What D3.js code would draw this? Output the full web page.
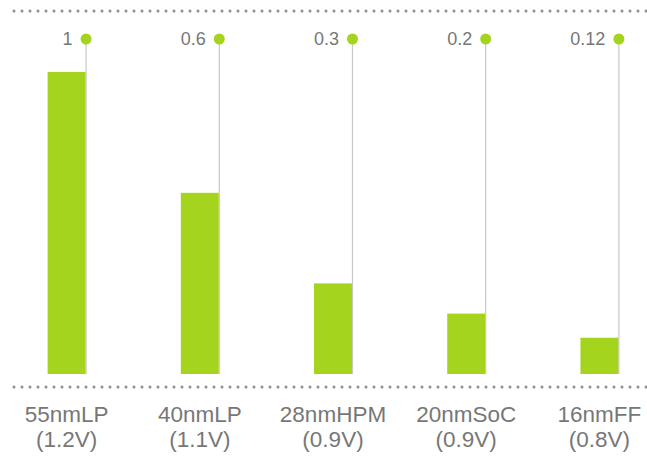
<!DOCTYPE html>
<html><head><meta charset="utf-8">
<script src="https://cdn.jsdelivr.net/npm/d3@7"></script>
<style>html,body{margin:0;padding:0;background:#fff;}svg{display:block;}</style>
</head><body>
<script>
const categories = ["55nmLP","40nmLP","28nmHPM","20nmSoC","16nmFF"];
const voltages = ["(1.2V)","(1.1V)","(0.9V)","(0.9V)","(0.8V)"];
const values = [1, 0.6, 0.3, 0.2, 0.12];
const valueLabels = ["1","0.6","0.3","0.2","0.12"];

const W = 647, H = 456;
const green = "#a5d41f", grey = "#777", dotGrey = "#8f8f8f";
const font = "'Liberation Sans', Arial, Helvetica, sans-serif";

const svg = d3.select("body").append("svg").attr("width", W).attr("height", H);

const x = d3.scaleBand().domain(categories).range([0, 666]).paddingInner(0.715).paddingOuter(0.3575);
const y = d3.scaleLinear().domain([0, 1]).range([374, 72]);
const dotY = 39;

// dotted rules
[11, 387].forEach(yy => {
  svg.append("line").attr("x1", 14).attr("x2", 647).attr("y1", yy).attr("y2", yy)
    .attr("stroke", dotGrey).attr("stroke-width", 3).attr("stroke-linecap", "round")
    .attr("stroke-dasharray", "0 8");
});

const g = svg.selectAll("g.item").data(categories).enter().append("g");

// connector lines
g.append("line")
  .attr("x1", (d) => x(d) + x.bandwidth() + 0.5)
  .attr("x2", (d) => x(d) + x.bandwidth() + 0.5)
  .attr("y1", dotY).attr("y2", y(0))
  .attr("stroke", "#c8c8c8").attr("stroke-width", 1.2);

// bars
g.append("rect")
  .attr("x", d => x(d))
  .attr("width", x.bandwidth())
  .attr("y", (d, i) => y(values[i]))
  .attr("height", (d, i) => y(0) - y(values[i]))
  .attr("fill", green);

// dots
g.append("circle")
  .attr("cx", d => x(d) + x.bandwidth() + 0.5)
  .attr("cy", dotY).attr("r", 5.5).attr("fill", green);

// value labels
g.append("text")
  .attr("x", d => x(d) + x.bandwidth() - 13)
  .attr("y", dotY + 6)
  .attr("text-anchor", "end")
  .attr("font-family", font).attr("font-size", 18).attr("fill", grey)
  .text((d, i) => valueLabels[i]);

// category labels
g.append("text")
  .attr("x", d => x(d) + x.bandwidth() / 2)
  .attr("y", 422)
  .attr("text-anchor", "middle")
  .attr("font-family", font).attr("font-size", 22.5).attr("fill", grey)
  .text(d => d);
g.append("text")
  .attr("x", d => x(d) + x.bandwidth() / 2)
  .attr("y", 447)
  .attr("text-anchor", "middle")
  .attr("font-family", font).attr("font-size", 22.5).attr("fill", grey)
  .text((d, i) => voltages[i]);
</script>
</body></html>
